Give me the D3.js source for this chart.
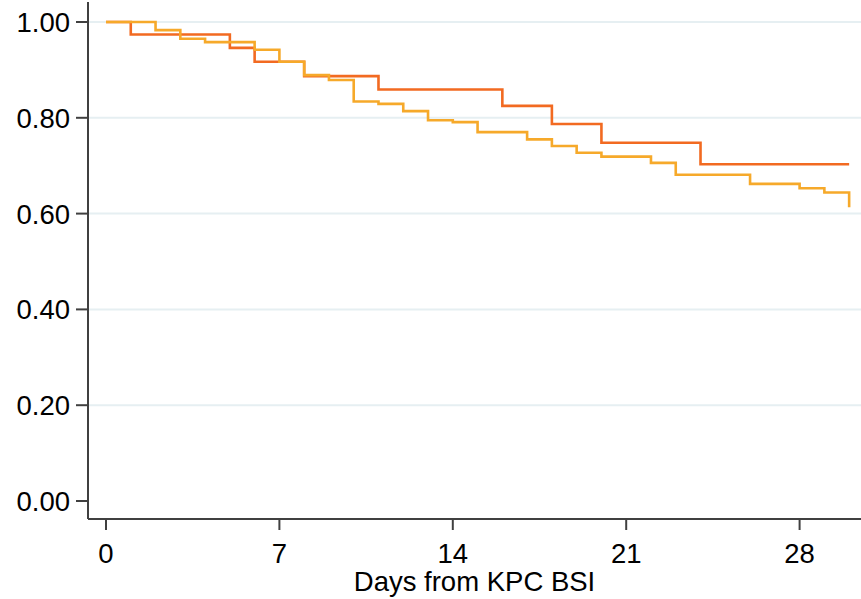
<html>
<head>
<script src="https://d3js.org/d3.v7.min.js"></script>
<style>
  body { margin: 0; background: #fff; }
  text { font-family: "Liberation Sans", Arial, sans-serif; fill: #000; }
</style>
</head>
<body></body>
<script>
  // Kaplan-Meier steps
  var redDays = [0, 1, 5, 6, 8, 11, 16, 18, 20, 24, 30];
  var redSurv = [1, 0.974, 0.946, 0.917, 0.887, 0.859, 0.825, 0.787, 0.748, 0.703, 0.703];
  var yelDays = [0, 2, 3, 4, 6, 7, 8, 9, 10, 11, 12, 13, 14, 15, 17, 18, 19, 20, 22, 23, 26, 28, 29, 30];
  var yelSurv = [1, 0.983, 0.965, 0.958, 0.942, 0.917, 0.889, 0.879, 0.834, 0.829, 0.814, 0.795, 0.791, 0.770, 0.755, 0.741, 0.727, 0.719, 0.706, 0.681, 0.662, 0.653, 0.644, 0.613];
  var xTicks = [0, 7, 14, 21, 28];
  var yTicks = [0, 0.2, 0.4, 0.6, 0.8, 1];

  var width = 861, height = 599;
  var svg = d3.select("body").append("svg")
    .attr("width", width)
    .attr("height", height);

  var x = d3.scaleLinear().domain([0, 28]).range([106, 799.6]);
  var y = d3.scaleLinear().domain([0, 1]).range([501, 22]);

  var axisX = 88, axisY = 519;

  // grid lines
  svg.append("g").selectAll("line")
    .data(yTicks.filter(function (d) { return d > 0; }))
    .enter().append("line")
    .attr("x1", axisX).attr("x2", width)
    .attr("y1", function (d) { return y(d); })
    .attr("y2", function (d) { return y(d); })
    .style("stroke", "#e6eff2")
    .style("stroke-width", 2);

  var line = d3.line()
    .x(function (d) { return x(d[0]); })
    .y(function (d) { return y(d[1]); })
    .curve(d3.curveStepAfter);

  svg.append("path")
    .datum(redDays.map(function (d, i) { return [d, redSurv[i]]; }))
    .attr("d", line)
    .style("fill", "none")
    .style("stroke", "#f26a21")
    .style("stroke-width", 2.6);

  svg.append("path")
    .datum(yelDays.map(function (d, i) { return [d, yelSurv[i]]; }))
    .attr("d", line)
    .style("fill", "none")
    .style("stroke", "#f6a92a")
    .style("stroke-width", 2.6);

  // y axis
  svg.append("line")
    .attr("x1", axisX).attr("x2", axisX).attr("y1", 2).attr("y2", axisY)
    .style("stroke", "#404040").style("stroke-width", 2);
  svg.append("g").selectAll("line")
    .data(yTicks).enter().append("line")
    .attr("x1", 76).attr("x2", axisX)
    .attr("y1", function (d) { return y(d); })
    .attr("y2", function (d) { return y(d); })
    .style("stroke", "#404040").style("stroke-width", 2);
  svg.append("g").selectAll("text")
    .data(yTicks).enter().append("text")
    .attr("x", 70)
    .attr("y", function (d) { return y(d); })
    .attr("dy", "0.36em")
    .style("text-anchor", "end")
    .style("font-size", "27.5px")
    .text(d3.format(".2f"));

  // x axis
  svg.append("line")
    .attr("x1", axisX).attr("x2", width).attr("y1", axisY).attr("y2", axisY)
    .style("stroke", "#404040").style("stroke-width", 2);
  svg.append("g").selectAll("line")
    .data(xTicks).enter().append("line")
    .attr("x1", function (d) { return x(d); })
    .attr("x2", function (d) { return x(d); })
    .attr("y1", axisY).attr("y2", 530)
    .style("stroke", "#404040").style("stroke-width", 2);
  svg.append("g").selectAll("text")
    .data(xTicks).enter().append("text")
    .attr("x", function (d) { return x(d); })
    .attr("y", 563)
    .style("text-anchor", "middle")
    .style("font-size", "27.5px")
    .text(function (d) { return d; });

  svg.append("text")
    .attr("x", (axisX + width) / 2)
    .attr("y", 591)
    .style("text-anchor", "middle")
    .style("font-size", "27.5px")
    .text("Days from KPC BSI");
</script>
</html>
